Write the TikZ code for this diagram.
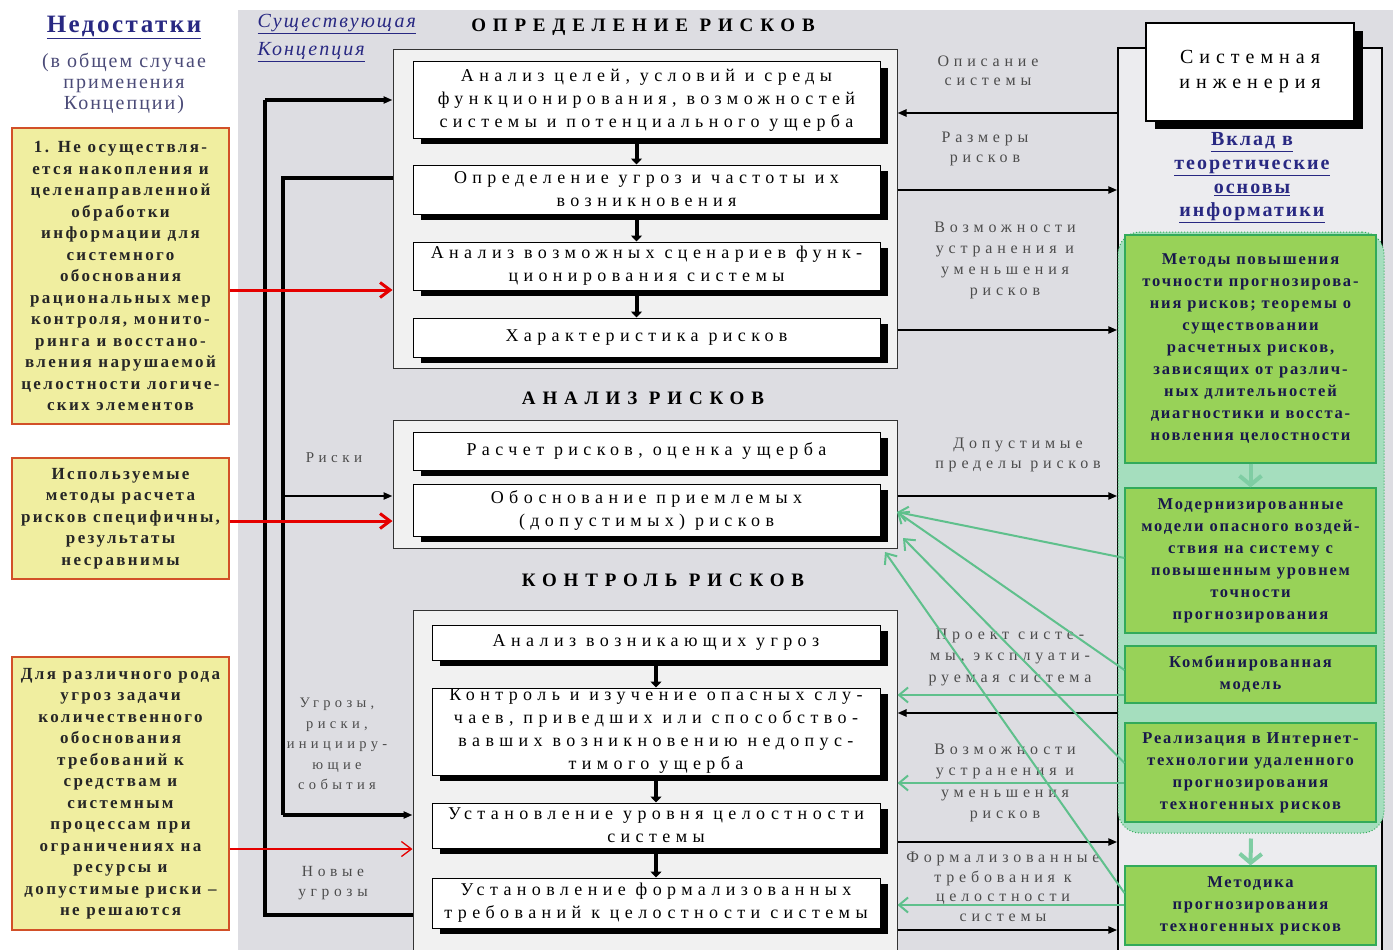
\documentclass[tikz,border=0pt]{standalone}
\usepackage{fontspec}
\setmainfont{Liberation Serif}
\newfontfamily\spacedfont[LetterSpace=30]{Liberation Serif}
\newfontfamily\titlefont[LetterSpace=36]{Liberation Serif}
\newfontfamily\yelfont[LetterSpace=14]{Liberation Serif}
\newfontfamily\grnfont[LetterSpace=11]{Liberation Serif}
\newfontfamily\widefont[LetterSpace=10]{Liberation Serif}
\usetikzlibrary{arrows.meta,shadows}

\definecolor{bggray}{RGB}{221,221,226}
\definecolor{framegray}{RGB}{241,241,241}
\definecolor{panelgray}{RGB}{236,236,239}
\definecolor{ylw}{RGB}{240,238,160}
\definecolor{ylwborder}{RGB}{210,80,40}
\definecolor{gfill}{RGB}{152,210,88}
\definecolor{gborder}{RGB}{50,170,90}
\definecolor{mint}{RGB}{165,222,190}
\definecolor{garrow}{RGB}{95,192,140}
\definecolor{navy}{RGB}{25,25,75}
\definecolor{inkblue}{RGB}{40,40,130}
\definecolor{slate}{RGB}{75,75,120}

\begin{document}
\begin{tikzpicture}[x=1pt,y=-1pt,
  frame/.style={draw=black!80, fill=framegray, line width=1pt, inner sep=0pt},
  inbox/.style={draw=black, line width=1pt, fill=white, inner sep=0pt, align=center,
    drop shadow={shadow xshift=8pt,shadow yshift=-6pt,fill=black,opacity=1},
    font=\spacedfont\fontsize{18}{23}\selectfont},
  ybox/.style={draw=ylwborder, fill=ylw, line width=1.2pt, minimum width=217pt, inner sep=0pt,
    align=center, text=black!85, font=\yelfont\bfseries\fontsize{17}{21.5}\selectfont},
  gbox/.style={draw=gborder, fill=gfill, line width=1.2pt, minimum width=251pt, inner sep=0pt,
    align=center, text=navy, font=\grnfont\bfseries\fontsize{16.5}{22}\selectfont},
  lbl/.style={align=center, text=black!70, font=\spacedfont\fontsize{16}{19.5}\selectfont},
  ttl/.style={font=\titlefont\bfseries\fontsize{19}{20}\selectfont},
  blk/.style={line width=2.6pt, -{Triangle[length=9pt,width=7pt]}},
  fb/.style={line width=3.2pt},
  dn/.style={line width=4pt, -{Triangle[length=6pt,width=11pt]}},
  grn/.style={draw=garrow, line width=2pt, -{Straight Barb[length=9pt,width=15pt]}},
  redarr/.style={draw=red!90!black, line width=3pt, -{Straight Barb[length=10pt,width=15pt]}},
  fat/.style={draw=garrow!80, line width=4pt, -{Straight Barb[length=9pt,width=22pt]}}]

\useasboundingbox (0,0) rectangle (1393,950);
\clip (0,0) rectangle (1393,950);

% Backgrounds
\fill[white] (0,0) rectangle (1393,950);
\fill[bggray] (238,10) rectangle (1393,950);



% Left column: shortcomings
\node[font=\widefont\bfseries\fontsize{25}{28}\selectfont, text=inkblue] (Ttl) at (124,27) {\underline{Недостатки}};
\node[align=center, text=slate, font=\widefont\fontsize{20}{21}\selectfont] (Sub) at (124,83)
  {(в общем случае\\применения\\Концепции)};

\node[ybox, minimum height=296pt] (Y1) at (120.5,276)
  {1. Не осуществля-\\ется накопления и\\целенаправленной\\обработки\\информации для\\системного\\обоснования\\рациональных мер\\контроля, монито-\\ринга и восстано-\\вления нарушаемой\\целостности логиче-\\ских элементов};

\node[ybox, minimum height=121pt] (Y2) at (120.5,518.5)
  {Используемые\\методы расчета\\рисков специфичны,\\результаты\\несравнимы};

\node[ybox, minimum height=273pt] (Y3) at (120.5,793.5)
  {Для различного рода\\угроз задачи\\количественного\\обоснования\\требований к\\средствам и\\системным\\процессам при\\ограничениях на\\ресурсы и\\допустимые риски –\\не решаются};



% Existing concept
\node[anchor=west, align=left, text=inkblue, font=\widefont\itshape\fontsize{20}{28}\selectfont] (Conc) at (254,38)
  {\underline{Существующая}\\\underline{Концепция}};



% Risk definition
\node[ttl] (T1) at (643,27) {ОПРЕДЕЛЕНИЕ РИСКОВ};
\node[frame, minimum width=504pt, minimum height=318pt] (F1) at (645,209) {};

\node[inbox, minimum width=467pt, minimum height=76pt] (B1) at (646.5,100)
  {Анализ целей, условий и среды\\функционирования, возможностей\\системы и потенциального ущерба};
\node[inbox, minimum width=467pt, minimum height=49pt] (B2) at (646.5,189.5)
  {Определение угроз и частоты их\\возникновения};
\node[inbox, minimum width=467pt, minimum height=48pt] (B3) at (646.5,266)
  {Анализ возможных сценариев функ-\\ционирования системы};
\node[inbox, minimum width=467pt, minimum height=39pt] (B4) at (646.5,337.5)
  {Характеристика рисков};

\draw[dn] ([xshift=-10pt]B1.south) -- ([xshift=-10pt]B2.north);
\draw[dn] ([xshift=-10pt]B2.south) -- ([xshift=-10pt]B3.north);
\draw[dn] ([xshift=-10pt]B3.south) -- ([xshift=-10pt]B4.north);



% Risk analysis
\node[ttl] (T2) at (643,398) {АНАЛИЗ РИСКОВ};
\node[frame, minimum width=504pt, minimum height=128pt] (F2) at (645,484) {};

\node[inbox, minimum width=467pt, minimum height=38pt] (B5) at (646.5,451)
  {Расчет рисков, оценка ущерба};
\node[inbox, minimum width=467pt, minimum height=52pt] (B6) at (646.5,510)
  {Обоснование приемлемых\\(допустимых) рисков};



% Risk control
\node[ttl] (T3) at (663,580) {КОНТРОЛЬ РИСКОВ};
\node[frame, minimum width=484pt, minimum height=355pt] (F3) at (655,787.5) {};

\node[inbox, minimum width=448pt, minimum height=35pt] (C1) at (656,642.5)
  {Анализ возникающих угроз};
\node[inbox, minimum width=448pt, minimum height=87pt] (C2) at (656,731.5)
  {Контроль и изучение опасных слу-\\чаев, приведших или способство-\\вавших возникновению недопус-\\тимого ущерба};
\node[inbox, minimum width=448pt, minimum height=45pt] (C3) at (656,825.5)
  {Установление уровня целостности\\системы};
\node[inbox, minimum width=448pt, minimum height=50pt] (C4) at (656,903)
  {Установление формализованных\\требований к целостности системы};

\draw[dn] (C1.south) -- (C2.north);
\draw[dn] (C2.south) -- (C3.north);
\draw[dn] (C3.south) -- (C4.north);



% Feedback lines on the left
\coordinate (xo) at (265,0);
\coordinate (xi) at (283,0);

\draw[fb] (F3.west |- 0,915) -- (xo |- 0,915) -- (xo |- 0,100);
\draw[fb, -{Triangle[length=9pt,width=7pt]}] (xo |- 0,100) -- (F1.west |- 0,100);

\draw[fb] (F1.west |- 0,178) -- (xi |- 0,178) -- (xi |- 0,815);
\draw[fb, -{Triangle[length=9pt,width=7pt]}] (xi |- 0,815) -- (F3.west |- 0,815);
\draw[line width=2.4pt, -{Triangle[length=9pt,width=7pt]}] (xi |- 0,496) -- (F2.west |- 0,496);

\node[lbl, font=\spacedfont\fontsize{15}{20.5}\selectfont] (Lr) at (334,458) {Риски};
\node[lbl, font=\spacedfont\fontsize{14.5}{20.5}\selectfont] (Lu) at (337,744)
  {Угрозы,\\риски,\\иницииру-\\ющие\\события};
\node[lbl, font=\spacedfont\fontsize{15.5}{20.5}\selectfont] (Ln) at (333,883) {Новые\\угрозы};

% Red arrows
\draw[redarr] (Y1.east |- 0,290) -- (F1.west |- 0,290);
\draw[redarr] (Y2.east |- 0,521) -- (F2.west |- 0,521);
\draw[redarr, line width=1.3pt] (Y3.east |- 0,849) -- (F3.west |- 0,849);



% Systems engineering panel
\node[draw=black, line width=1.5pt, fill=panelgray, minimum width=264pt, minimum height=917pt, inner sep=0pt] (P) at (1250,506.5) {};

\node[draw=black, line width=1.2pt, fill=white, minimum width=208pt, minimum height=98pt, align=center,
  drop shadow={shadow xshift=9pt,shadow yshift=-8pt,fill=black,opacity=1},
  font=\spacedfont\fontsize{20}{25}\selectfont] (SI) at (1250,72) {Системная\\инженерия};

\node[align=center, text=inkblue, font=\widefont\bfseries\fontsize{20}{23.7}\selectfont] (Vk) at (1252,178)
  {\underline{Вклад в}\\\underline{теоретические}\\\underline{основы}\\\underline{информатики}};

\node[draw=gborder, dotted, line width=1pt, fill=mint, rounded corners=22pt,
  minimum width=266pt, minimum height=601pt, inner sep=0pt] (M) at (1251,532.5) {};

\node[gbox, minimum height=228pt] (G1) at (1250.5,349)
  {Методы повышения\\точности прогнозирова-\\ния рисков; теоремы о\\существовании\\расчетных рисков,\\зависящих от различ-\\ных длительностей\\диагностики и восста-\\новления целостности};
\node[gbox, minimum height=145pt] (G2) at (1250.5,560.5)
  {Модернизированные\\модели опасного воздей-\\ствия на систему с\\повышенным уровнем\\точности\\прогнозирования};
\node[gbox, minimum height=57pt] (G3) at (1250.5,674.5)
  {Комбинированная\\модель};
\node[gbox, minimum height=99pt] (G4) at (1250.5,772.5)
  {Реализация в Интернет-\\технологии удаленного\\прогнозирования\\техногенных рисков};
\node[gbox, minimum height=79pt] (G5) at (1250.5,905.5)
  {Методика\\прогнозирования\\техногенных рисков};

\draw[fat] (G1.south) -- (G2.north);
\draw[fat] (M.south) ++(0,5) -- (G5.north);



% Links between the blocks and the panel
\draw[blk] (P.west |- 0,113) -- (F1.east |- 0,113);
\draw[blk] (F1.east |- 0,190) -- (P.west |- 0,190);
\draw[blk] (F1.east |- 0,330) -- (P.west |- 0,330);
\draw[blk] (F2.east |- 0,496) -- (P.west |- 0,496);
\draw[blk] (P.west |- 0,713) -- (F3.east |- 0,713);
\draw[blk] (F3.east |- 0,842) -- (P.west |- 0,842);
\draw[blk] (F3.east |- 0,930) -- (P.west |- 0,930);

\node[lbl] (D1) at (988,71) {Описание\\системы};
\node[lbl] (D2) at (985,149) {Размеры\\рисков};
\node[lbl, font=\spacedfont\fontsize{16}{21}\selectfont] (D3) at (1005,260) {Возможности\\устранения и\\уменьшения\\рисков};
\node[lbl] (D4) at (1018,455) {Допустимые\\пределы рисков};
\node[lbl, font=\spacedfont\fontsize{16}{21.5}\selectfont] (D5) at (1010,657) {Проект систе-\\мы, эксплуати-\\руемая система};
\node[lbl, font=\spacedfont\fontsize{16}{21.5}\selectfont] (D6) at (1005,783) {Возможности\\устранения и\\уменьшения\\рисков};
\node[lbl] (D7) at (1003,887) {Формализованные\\требования к\\целостности\\системы};

% Green links
\coordinate (gA) at (897,512);
\coordinate (gB) at (903,538);
\coordinate (gC) at (885,552);

\draw[grn] (G2.west |- 0,558) -- (gA);
\draw[grn] (G3.west |- 0,670) -- (gA);
\draw[grn] (G4.west |- 0,763) -- (gB);
\draw[grn] (G5.west |- 0,893) -- (gC);
\draw[grn] (G3.west |- 0,695) -- (F3.east |- 0,695);
\draw[grn] (G4.west |- 0,783) -- (F3.east |- 0,783);
\draw[grn] (G5.west |- 0,905) -- (F3.east |- 0,905);

\end{tikzpicture}
\end{document}
